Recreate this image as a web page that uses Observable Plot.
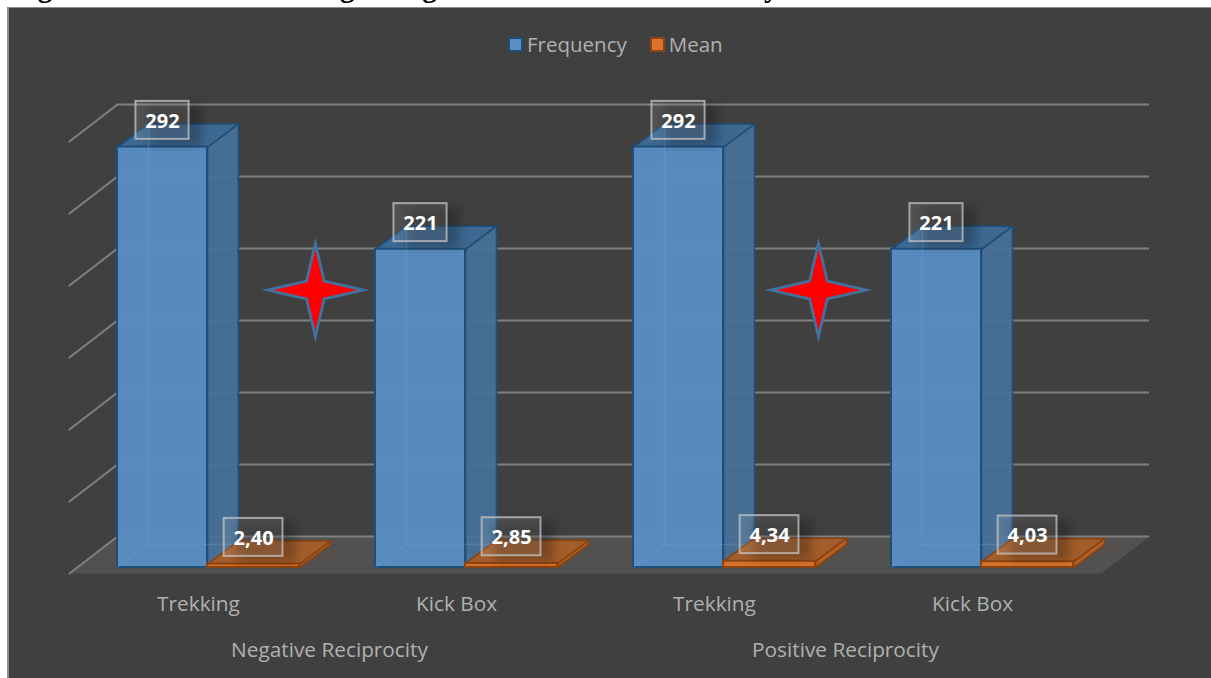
<!DOCTYPE html>
<html>
<head>
<meta charset="utf-8">
<script src="https://cdn.jsdelivr.net/npm/d3@7"></script>
<script src="https://cdn.jsdelivr.net/npm/@observablehq/plot@0.6"></script>
<style>
  html, body { margin: 0; padding: 0; background: #fff; overflow: hidden; }
  #page { position: relative; width: 1211px; height: 678px; overflow: hidden; }
  #heading {
    position: absolute; left: 12px; top: -29px; white-space: nowrap;
    font: bold 29px "Liberation Serif", serif; color: #000;
  }
  #panel {
    position: absolute; left: 7px; top: 7px; right: 0; bottom: 0;
    background: #404040; border-left: 2px solid #8c8c8c; border-top: 1.5px solid #8c8c8c;
  }
  #legend {
    position: absolute; top: 30px; left: 508px; display: flex; align-items: center;
    font: 20.5px "Open Sans", sans-serif; color: #b0b0b0;
  }
  #legend i { display: inline-block; box-sizing: border-box; width: 15px; height: 15px; border: 2.5px solid; margin-right: 4px; }
  #legend span { margin-right: 23px; }
  #chart { position: absolute; left: 0; top: 0; }
  #chart svg { display: block; }
</style>
</head>
<body>
<div id="page">
  <div id="heading">Figure 4: T-test Results Regarding Schedule Behavior Activity Preferences</div>
  <div id="panel"></div>
  <div id="legend"></div>
  <div id="chart"></div>
</div>
<script>
// Chart values
const groups = ["Negative Reciprocity", "Positive Reciprocity"];
const activities = ["Trekking", "Kick Box", "Trekking", "Kick Box"];
const frequency = [292, 221, 292, 221];
const mean = [2.40, 2.85, 4.34, 4.03];
const gridValues = [0, 50, 100, 150, 200, 250, 300];
const starSlots = [0.953, 2.903];

// Fake 3D layout, in scale units: one slot per activity on x, counts on y
const barStart = 0.186, barWidth = 0.349, meanWidth = 0.357;
const depthX = 0.12, depthY = 16;
const wallX = 0.186, wallY = 21.5, floorFront = -4.2, wallFrontY = wallY - 25.7;
const floorEnd = 4.186;

const colors = {
  blue:   {front: "#5a8ec4", side: "#46719a", top: "#3d6a96", edge: "#1f4e79"},
  orange: {front: "#dd7228", side: "#c0601f", top: "#a85e29", edge: "#8a4312"}
};
const starColor = {fill: "#ff0000", stroke: "#41719c"};

const legendItems = [
  {label: "Frequency", fill: colors.blue.front, edge: colors.blue.edge},
  {label: "Mean", fill: colors.orange.front, edge: colors.orange.edge}
];
d3.select("#legend").selectAll("div").data(legendItems).join("div")
  .style("display", "flex").style("align-items", "center")
  .html(d => `<i style="background:${d.fill};border-color:${d.edge}"></i><span>${d.label}</span>`);

// Each face of a box is a closed polygon keyed by its id
const poly = (id, pts) => pts.map(([x, y]) => ({id, x, y}));

function sideFaces(x0, x1, v, key) {
  return poly(key, [[x1, 0], [x1 + depthX, depthY], [x1 + depthX, v + depthY], [x1, v]]);
}
function topFaces(x0, x1, v, key) {
  return poly(key, [[x0, v], [x1, v], [x1 + depthX, v + depthY], [x0 + depthX, v + depthY]]);
}
function rearEdges(x0, x1, v, key) {
  return [
    ...poly(key + "a", [[x0, 0], [x0 + depthX, depthY], [x0 + depthX, v + depthY]]),
    ...poly(key + "b", [[x0 + depthX, depthY], [x1 + depthX, depthY]])
  ];
}

const freqBars = frequency.map((v, i) => ({x0: i + barStart, x1: i + barStart + barWidth, v, label: String(v), half: 0.103}));
const meanBars = mean.map((v, i) => ({x0: i + barStart + barWidth, x1: i + barStart + barWidth + meanWidth, v, label: v.toFixed(2).replace(".", ","), half: 0.114}));

function boxMarks(bars, c, tag) {
  const sides = bars.flatMap((b, i) => sideFaces(b.x0, b.x1, b.v, tag + i));
  const tops = bars.flatMap((b, i) => topFaces(b.x0, b.x1, b.v, tag + i));
  const rear = bars.flatMap((b, i) => rearEdges(b.x0, b.x1, b.v, tag + i));
  return [
    Plot.line(sides, {x: "x", y: "y", z: "id", curve: "linear-closed", fill: c.side, fillOpacity: 0.92, stroke: c.edge, strokeWidth: 1.6}),
    Plot.line(tops, {x: "x", y: "y", z: "id", curve: "linear-closed", fill: c.top, fillOpacity: 0.95, stroke: c.edge, strokeWidth: 1.6}),
    Plot.rectY(bars, {x1: "x0", x2: "x1", y1: 0, y2: "v", fill: c.front, fillOpacity: 0.96, stroke: c.edge, strokeWidth: 2}),
    Plot.line(rear, {x: "x", y: "y", z: "id", stroke: "#6aa3dc", strokeOpacity: tag === "f" ? 0.3 : 0, strokeWidth: 1.5})
  ];
}

function labelMarks(bars) {
  const cx = b => (b.x0 + b.x1) / 2;
  return [
    Plot.rect(bars, {
      x1: b => cx(b) - b.half + 0.05, x2: b => cx(b) + b.half + 0.05,
      y1: b => b.v + 18 - 17, y2: b => b.v + 18 + 11,
      fill: "#000", fillOpacity: 0.24, imageFilter: "blur(5px)"
    }),
    Plot.rect(bars, {
      x1: b => cx(b) - b.half, x2: b => cx(b) + b.half,
      y1: b => b.v + 18.5 - 13.2, y2: b => b.v + 18.5 + 13.2,
      fill: "#ffffff", fillOpacity: 0.09, stroke: "#c4c4c4", strokeOpacity: 0.75, strokeWidth: 2
    }),
    Plot.text(bars, {
      x: cx, y: b => b.v + 18.5, dy: 1, text: "label",
      fill: "#fff", fontWeight: "bold", fontSize: 20, fontFamily: "Open Sans"
    })
  ];
}

// Four-armed star symbol scaled from the dot radius
const star = {
  draw(ctx, size) {
    const r = Math.sqrt(size / Math.PI), w = r * 0.19;
    ctx.moveTo(0, -r);
    ctx.lineTo(w, -w);
    ctx.lineTo(r * 1.03, 0);
    ctx.lineTo(w, w);
    ctx.lineTo(0, r);
    ctx.lineTo(-w, w);
    ctx.lineTo(-r * 1.03, 0);
    ctx.lineTo(-w, -w);
    ctx.closePath();
  }
};

const chart = Plot.plot({
  width: 1211, height: 678,
  marginLeft: 69, marginRight: 110, marginTop: 135, marginBottom: 111,
  x: {type: "linear", domain: [0, 4]},
  y: {type: "linear", domain: [0, 300], axis: null},
  style: {background: "transparent", fontFamily: "Open Sans", overflow: "visible"},
  marks: [
    // floor
    Plot.line(poly("floor", [[0, floorFront], [wallX, wallY], [floorEnd, wallY], [floorEnd - wallX, floorFront]]),
      {x: "x", y: "y", z: "id", curve: "linear-closed", fill: "#535050", stroke: "none"}),
    // gridlines across the back wall and down the side wall
    Plot.ruleY(gridValues, {
      x1: wallX, x2: floorEnd, y: d => d + wallY, stroke: "#808080", strokeWidth: 2
    }),
    Plot.line(gridValues.flatMap(v => poly("wall" + v, [[0, v + wallFrontY], [wallX, v + wallY]])),
      {x: "x", y: "y", z: "id", stroke: "#808080", strokeWidth: 2}),

    ...boxMarks(freqBars, colors.blue, "f"),
    ...boxMarks(meanBars, colors.orange, "m"),

    // stars between the activity pairs
    Plot.dot(starSlots, {
      x: d => d, y: () => 192.7, r: 46.5, symbol: star,
      fill: starColor.fill, stroke: starColor.stroke, strokeWidth: 2.8, strokeMiterlimit: 12
    }),

    ...labelMarks(freqBars),
    ...labelMarks(meanBars),

    // two-level category axis
    Plot.axisX({
      ticks: [0.5, 1.5, 2.5, 3.5], tickSize: 0, tickPadding: 29, label: null,
      tickFormat: d => activities[d - 0.5], fontSize: 20.8, fill: "#b0b0b0", stroke: "none", lineHeight: 1
    }),
    Plot.axisX({
      ticks: [1, 3], tickSize: 0, tickPadding: 75, label: null, dx: 2,
      tickFormat: d => groups[(d - 1) / 2], fontSize: 20.8, fill: "#b0b0b0", stroke: "none", lineHeight: 1
    })
  ]
});
document.getElementById("chart").append(chart);
</script>
</body>
</html>
